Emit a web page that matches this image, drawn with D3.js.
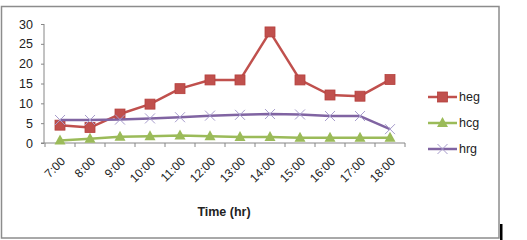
<!DOCTYPE html>
<html>
<head>
<meta charset="utf-8">
<script src="https://cdn.jsdelivr.net/npm/d3@7"></script>
<style>
  body { margin: 0; background: #fff; }
  svg { display: block; font-family: "Liberation Sans", Arial, sans-serif; }
</style>
</head>
<body>
<svg width="527" height="240"></svg>
<script>
const hours = ["7:00", "8:00", "9:00", "10:00", "11:00", "12:00",
               "13:00", "14:00", "15:00", "16:00", "17:00", "18:00"];
const heg = [4.5, 3.9, 7.3, 9.8, 13.7, 15.9, 15.9, 28.0, 15.9, 12.1, 11.8, 16.0];
const hcg = [0.6, 1.1, 1.6, 1.7, 1.9, 1.7, 1.5, 1.5, 1.3, 1.3, 1.3, 1.3];
const hrg = [5.8, 5.8, 5.9, 6.2, 6.5, 6.9, 7.1, 7.3, 7.2, 6.8, 6.8, 3.5];
const yTicks = [0, 5, 10, 15, 20, 25, 30];

const series = [
  {name: "heg", values: heg, color: "#c0504d", marker: "square"},
  {name: "hcg", values: hcg, color: "#9bbb59", marker: "triangle"},
  {name: "hrg", values: hrg, color: "#8064a2", marker: "cross"}
];

const svg = d3.select("svg");

// outer frame
svg.append("rect")
    .attr("x", 1.5).attr("y", 6.5)
    .attr("width", 497.5).attr("height", 231.5)
    .attr("fill", "#fff")
    .attr("stroke", "#8c8c8c")
    .attr("stroke-width", 1.5);
svg.append("rect")
    .attr("x", 500).attr("y", 224)
    .attr("width", 2.5).attr("height", 16)
    .attr("fill", "#000");

const x = d3.scaleBand().domain(hours).range([45, 405]);
const y = d3.scaleLinear().domain([0, 30]).range([143, 24]);

// y axis
const yAxis = svg.append("g")
    .attr("transform", "translate(44,0)")
    .call(d3.axisLeft(y).tickValues(yTicks).tickSize(3).tickPadding(8));
yAxis.select(".domain").attr("stroke", "#868686").attr("d", "M0,143V24");
yAxis.selectAll(".tick line").attr("stroke", "#868686");
yAxis.selectAll("text")
    .attr("font-size", 12.5)
    .attr("font-family", "Liberation Sans, Arial, sans-serif")
    .attr("fill", "#222");

// x axis
const xAxis = svg.append("g")
    .attr("transform", "translate(0,143)")
    .call(d3.axisBottom(x).tickSize(0).tickFormat(""));
xAxis.select(".domain").attr("stroke", "#868686").attr("d", "M41,0H405");
xAxis.selectAll(".tick").remove();
xAxis.selectAll(".sep")
    .data(d3.range(hours.length + 1))
    .join("line")
    .attr("x1", i => 45 + i * x.step())
    .attr("x2", i => 45 + i * x.step())
    .attr("y1", 0).attr("y2", 4)
    .attr("stroke", "#868686");
xAxis.selectAll(".lbl")
    .data(hours)
    .join("text")
    .attr("text-anchor", "end")
    .attr("font-size", 12)
    .attr("fill", "#222")
    .attr("transform", d => `translate(${x(d) + x.bandwidth() / 2 + 6},${19}) rotate(-45)`)
    .text(d => d);

svg.append("text")
    .attr("x", 224).attr("y", 216)
    .attr("text-anchor", "middle")
    .attr("font-size", 12.5)
    .attr("font-weight", "bold")
    .attr("fill", "#222")
    .text("Time (hr)");

const cx = (d, i) => x(hours[i]) + x.bandwidth() / 2;
const line = d3.line().x((d, i) => cx(d, i)).y(d => y(d));

function drawMarker(g, type, color) {
  if (type === "square") {
    g.append("rect").attr("x", -5).attr("y", -5).attr("width", 10).attr("height", 10)
        .attr("fill", color).attr("stroke", "#b5403d").attr("stroke-width", 0.8);
  } else if (type === "triangle") {
    g.append("path").attr("d", "M0,-6L5.5,4L-5.5,4Z").attr("fill", color);
  } else {
    g.append("path").attr("d", "M-5,-5L5,5M5,-5L-5,5")
        .attr("stroke", "#a79ccc").attr("stroke-width", 1).attr("fill", "none");
  }
}

series.forEach(s => {
  svg.append("path")
      .datum(s.values)
      .attr("fill", "none")
      .attr("stroke", s.color)
      .attr("stroke-width", 2.5)
      .attr("stroke-linejoin", "round")
      .attr("d", line);
  s.values.forEach((v, i) => {
    const g = svg.append("g").attr("transform", `translate(${cx(v, i)},${y(v)})`);
    drawMarker(g, s.marker, s.color);
  });
});

// legend
const legend = svg.append("g");
series.forEach((s, i) => {
  const ly = 97 + i * 26;
  legend.append("line")
      .attr("x1", 428).attr("x2", 457)
      .attr("y1", ly).attr("y2", ly)
      .attr("stroke", s.color).attr("stroke-width", 2.5);
  const g = legend.append("g").attr("transform", `translate(442.5,${ly})`);
  drawMarker(g, s.marker, s.color);
  legend.append("text")
      .attr("x", 459).attr("y", ly + 4)
      .attr("font-size", 12.5)
      .attr("fill", "#222")
      .text(s.name);
});
</script>
</body>
</html>
